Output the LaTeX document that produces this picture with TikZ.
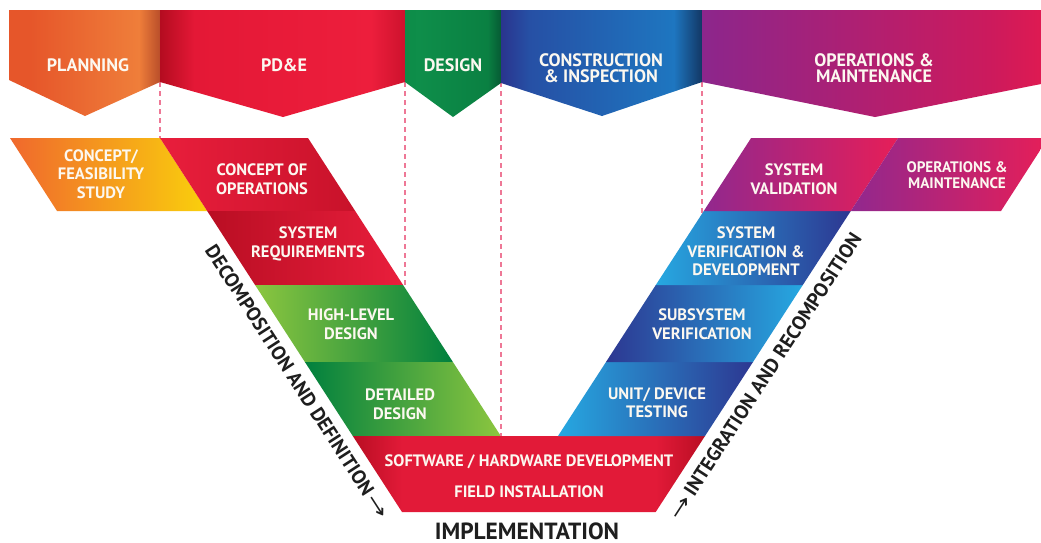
\documentclass[tikz,border=0pt]{standalone}
\usepackage{fontspec}
\usepackage{graphicx}
\setmainfont{PT Sans}
\newfontfamily\arrowfont{DejaVu Sans}
\newcommand\longarr{{\arrowfont\mdseries\scalebox{1.5}[1]{→}}}
\definecolor{plA}{RGB}{230,86,42}
\definecolor{plB}{RGB}{239,126,58}
\definecolor{plC}{RGB}{185,78,42}
\definecolor{pdA}{RGB}{180,12,32}
\definecolor{pdB}{RGB}{228,24,54}
\definecolor{pdC}{RGB}{237,30,60}
\definecolor{pdD}{RGB}{205,18,45}
\definecolor{dsA}{RGB}{12,140,72}
\definecolor{dsB}{RGB}{14,142,74}
\definecolor{dsC}{RGB}{10,128,66}
\definecolor{dsD}{RGB}{6,90,52}
\definecolor{cnA}{RGB}{42,52,142}
\definecolor{cnB}{RGB}{38,80,165}
\definecolor{cnC}{RGB}{30,118,192}
\definecolor{cnD}{RGB}{18,55,100}
\definecolor{omA}{RGB}{140,38,140}
\definecolor{omB}{RGB}{150,36,132}
\definecolor{omC}{RGB}{205,26,92}
\definecolor{omD}{RGB}{222,26,82}
\definecolor{dashpink}{RGB}{238,120,150}
\definecolor{txtdark}{RGB}{30,30,30}
\definecolor{labwhite}{RGB}{252,248,240}
\definecolor{redA}{RGB}{233,30,60}
\definecolor{redB}{RGB}{200,18,42}
\definecolor{redC}{RGB}{185,14,35}
\definecolor{redD}{RGB}{226,26,56}
\definecolor{grL}{RGB}{140,198,63}
\definecolor{grD}{RGB}{0,128,62}
\definecolor{blL}{RGB}{38,168,225}
\definecolor{blD}{RGB}{45,55,145}
\definecolor{puA}{RGB}{145,40,142}
\definecolor{piA}{RGB}{230,30,88}
\definecolor{orA}{RGB}{240,104,45}
\definecolor{yeA}{RGB}{250,208,12}
\newcommand\fourshade[5]{\pgfdeclarehorizontalshading{#1}{100bp}{color(0bp)=(#2); color(25bp)=(#2); color(32bp)=(#3); color(68bp)=(#4); color(75bp)=(#5); color(100bp)=(#5)}}
\fourshade{plshade}{plA}{plA}{plB}{plC}
\fourshade{pdshade}{pdA}{pdB}{pdC}{pdD}
\fourshade{dsshade}{dsA}{dsB}{dsC}{dsD}
\fourshade{cnshade}{cnA}{cnB}{cnC}{cnD}
\fourshade{omshade}{omA}{omB}{omC}{omD}
\fourshade{botshade}{redC}{redD}{redD}{redC}
\begin{document}
\begin{tikzpicture}[x=1pt,y=-1pt,
  lab/.style={text=labwhite, font=\bfseries\fontsize{16.5}{18.5}\selectfont, align=center, inner sep=0pt},
  ban/.style={text=labwhite, font=\bfseries\fontsize{18}{16.5}\selectfont, align=center, inner sep=0pt},
  small/.style={text=labwhite, font=\bfseries\fontsize{15.2}{16}\selectfont, align=center, inner sep=0pt},
  side/.style={text=txtdark, font=\bfseries\fontsize{19.7}{22}\selectfont, inner sep=0pt},
  dashln/.style={draw=dashpink, line width=1.2pt, dash pattern=on 5pt off 4pt}]
\useasboundingbox (0,0) rectangle (1041,542);
\fill[white] (0,0) rectangle (1041,542);
% dashed guides
\draw[dashln] (160,82) -- (160,140);
\draw[dashln] (405,82) -- (405,300);
\draw[dashln] (501,82) -- (501,440);
\draw[dashln] (702,82) -- (702,215);
% banners
\shade[shading=plshade] (9,10) -- (160,10) -- (160,82) -- (85,116) -- (9,80) -- cycle;
\shade[shading=pdshade] (160,10) -- (405,10) -- (405,82) -- (283,117) -- (160,82) -- cycle;
\shade[shading=dsshade] (405,10) -- (501,10) -- (501,83) -- (453,117) -- (405,82) -- cycle;
\shade[shading=cnshade] (501,10) -- (702,10) -- (702,82) -- (602,116) -- (501,83) -- cycle;
\shade[shading=omshade] (702,10) -- (1041,10) -- (1041,84) -- (875,117) -- (702,82) -- cycle;
\node[ban] (planning) at (88,65) {PLANNING};
\node[ban] (pde) at (284,65) {PD\&E};
\node[ban] (design) at (453,65) {DESIGN};
\node[ban] (constr) at (601,68) {CONSTRUCTION\\\& INSPECTION};
\node[ban] (opmt) at (874,68) {OPERATIONS \&\\MAINTENANCE};
% left arm
\shade[left color=orA, right color=yeA] (10,138) -- (160,138) -- (207.2,211) -- (57,211) -- cycle;
\shade[left color=redA, right color=redB] (160,138) -- (308,138) -- (355.2,211) -- (207.2,211) -- cycle;
\shade[left color=redC, right color=redA] (207.2,211) -- (355.2,211) -- (403.1,285) -- (255.1,285) -- cycle;
\shade[left color=grL, middle color=grL, right color=grD] (255.1,285) -- (403.1,285) -- (452.9,362) -- (304.9,362) -- cycle;
\shade[left color=grD, right color=grL] (304.9,362) -- (452.9,362) -- (500.8,436) -- (352.8,436) -- cycle;
% bottom
\shade[shading=botshade] (352.8,436) -- (705,436) -- (655.7,512) -- (402,512) -- cycle;
% right arm
\shade[left color=blL, right color=blD] (558,436) -- (705,436) -- (753,362) -- (606,362) -- cycle;
\shade[left color=blD, right color=blL] (606,362) -- (753,362) -- (802.8,285) -- (655.8,285) -- cycle;
\shade[left color=blL, middle color=blL, right color=blD] (655.8,285) -- (802.8,285) -- (850.8,211) -- (703.8,211) -- cycle;
\shade[left color=puA, right color=piA] (703.8,211) -- (850.8,211) -- (898.1,138) -- (751.1,138) -- cycle;
\shade[left color=puA, right color=piA] (850.8,211) -- (1001,211) -- (1048,138) -- (898.1,138) -- cycle;
% labels
\node[lab] (feas) at (101,174) {CONCEPT/\\FEASIBILITY\\STUDY};
\node[lab] (conops) at (262,179) {CONCEPT OF\\OPERATIONS};
\node[lab] (sysreq) at (308,244) {SYSTEM\\REQUIREMENTS};
\node[lab] (hld) at (351,324) {HIGH-LEVEL\\DESIGN};
\node[lab] (dd) at (400,404) {DETAILED\\DESIGN};
\node[lab] (swhw) at (529,462) {SOFTWARE / HARDWARE DEVELOPMENT};
\node[lab] (field) at (529,492) {FIELD INSTALLATION};
\node[text=txtdark, font=\bfseries\fontsize{23.4}{24}\selectfont, inner sep=0pt, anchor=base] (impl) at (527,539) {IMPLEMENTATION};
\node[lab] (unit) at (657,402.5) {UNIT/ DEVICE\\TESTING};
\node[lab] (subsys) at (702,324) {SUBSYSTEM\\VERIFICATION};
\node[lab] (sysver) at (746,251.5) {SYSTEM\\VERIFICATION \&\\DEVELOPMENT};
\node[lab] (sysval) at (794,179) {SYSTEM\\VALIDATION};
\node[small] (om) at (957,175) {OPERATIONS \&\\MAINTENANCE};
% side texts
\node[side, rotate=-57.1] (decomp) at (297.5,382) {DECOMPOSITION AND DEFINITION\,\longarr};
\node[side, rotate=57.0] (integ) at (765,376) {\longarr\,INTEGRATION AND RECOMPOSITION};
\end{tikzpicture}
\end{document}
